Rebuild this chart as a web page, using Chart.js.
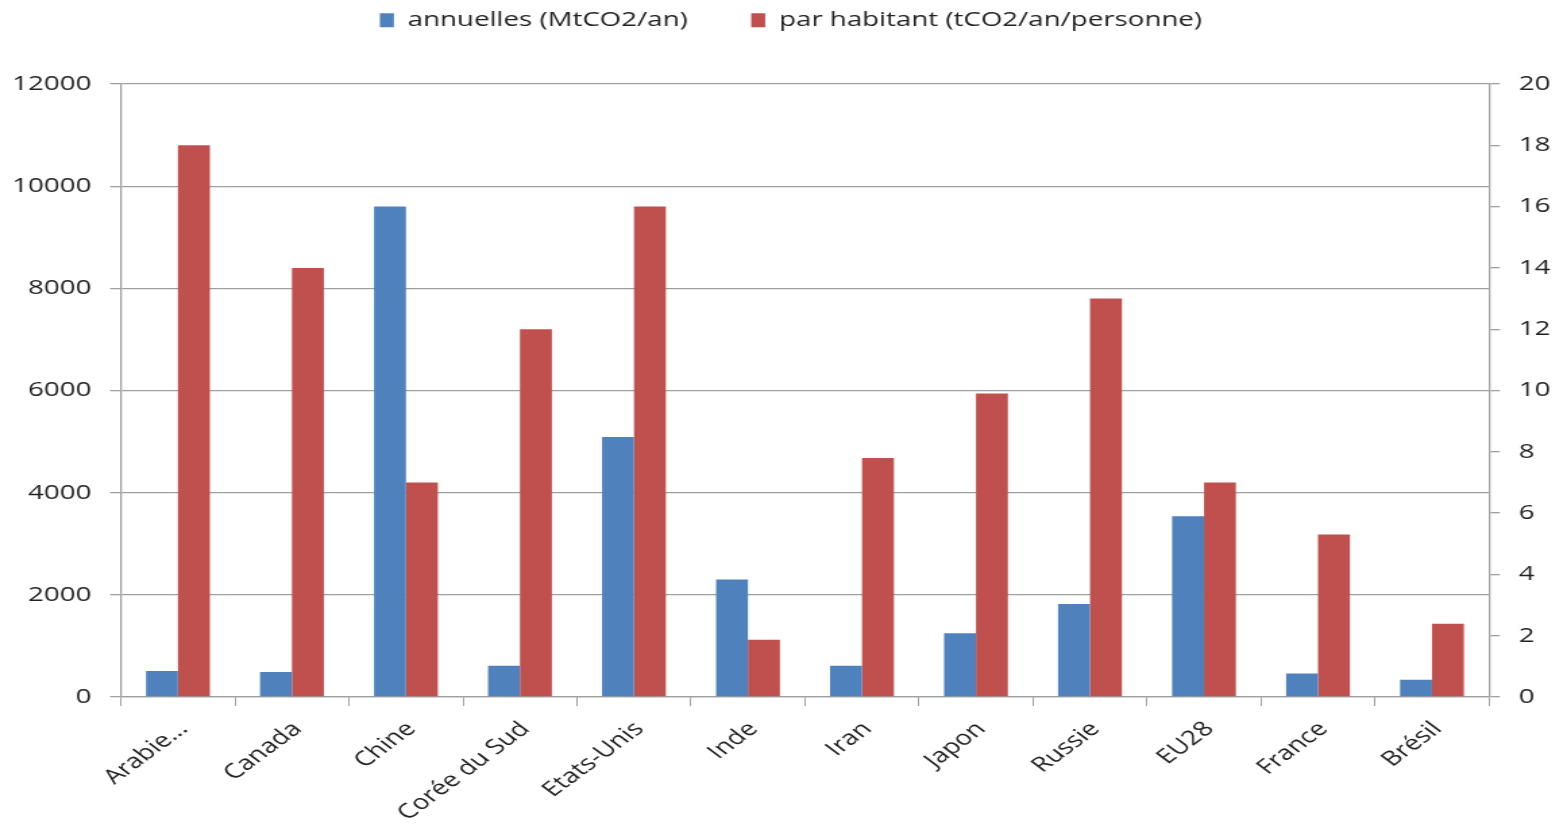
<!DOCTYPE html>
<html>
<head>
<meta charset="utf-8">
<script src="https://cdn.jsdelivr.net/npm/chart.js@4/dist/chart.umd.min.js"></script>
<style>
html,body{margin:0;padding:0;background:#fff;overflow:hidden;}
#c{display:block;width:1567px !important;height:829px !important;}
</style>
</head>
<body>
<canvas id="c" width="1161" height="829" style="width:1567px;height:829px;"></canvas>
<script>
// Data
const categories = ["Arabie...", "Canada", "Chine", "Corée du Sud", "Etats-Unis", "Inde", "Iran", "Japon", "Russie", "EU28", "France", "Brésil"];
const annualLabel = "annuelles (MtCO2/an)";
const perCapitaLabel = "par habitant (tCO2/an/personne)";
const annualValues = [510, 490, 9600, 610, 5090, 2300, 610, 1250, 1820, 3540, 460, 340];
const perCapitaValues = [18, 14, 7, 12, 16, 1.87, 7.8, 9.9, 13, 7, 5.3, 2.39];
const leftTicks = [0, 2000, 4000, 6000, 8000, 10000, 12000];
const rightTicks = [0, 2, 4, 6, 8, 10, 12, 14, 16, 18, 20];

const FONT = {family: "'Open Sans', sans-serif", size: 20.5};
const TEXT = '#222222';
const GRID = '#a0a0a0';

const legendSpace = {
  id: 'legendSpace',
  beforeInit(chart) {
    const orig = chart.legend.fit;
    chart.legend.fit = function () {
      orig.bind(chart.legend)();
      this.height = 121;
    };
  }
};

new Chart(document.getElementById('c'), {
  type: 'bar',
  data: {
    labels: categories,
    datasets: [
      {label: annualLabel, data: annualValues, backgroundColor: '#4F81BD', borderWidth: 0, yAxisID: 'y', categoryPercentage: 0.56, barPercentage: 1.0},
      {label: perCapitaLabel, data: perCapitaValues, backgroundColor: '#C0504D', borderWidth: 0, yAxisID: 'y1', categoryPercentage: 0.56, barPercentage: 1.0}
    ]
  },
  options: {
    responsive: false,
    animation: false,
    devicePixelRatio: 1,
    layout: {padding: {top: -37, left: 11, right: 0, bottom: 0}},
    plugins: {
      legend: {
        position: 'top',
        align: 'center',
        labels: {font: FONT, color: TEXT, boxWidth: 10.4, boxHeight: 14, padding: 47}
      },
      tooltip: {enabled: false}
    },
    scales: {
      x: {
        offset: true,
        grid: {offset: true, drawOnChartArea: false, drawTicks: true, tickLength: 9, color: GRID, lineWidth: 1},
        border: {color: GRID, width: 1.3},
        ticks: {font: FONT, color: TEXT, minRotation: 45, maxRotation: 45, autoSkip: false, padding: 11, labelOffset: 4},
        afterFit: s => { s.height = 132; }
      },
      y: {
        position: 'left',
        min: 0, max: 12000,
        afterBuildTicks: s => { s.ticks = leftTicks.map(v => ({value: v})); },
        grid: {color: GRID, lineWidth: 1.3, tickLength: 8, drawTicks: true},
        border: {color: GRID, width: 1.3},
        ticks: {font: FONT, color: TEXT, padding: 14, callback: v => String(v)},
        afterFit: s => { s.width = 78.6; }
      },
      y1: {
        position: 'right',
        min: 0, max: 20,
        afterBuildTicks: s => { s.ticks = rightTicks.map(v => ({value: v})); },
        grid: {drawOnChartArea: false, color: GRID, lineWidth: 1.3, tickLength: 8, drawTicks: true},
        border: {color: GRID, width: 1.3},
        ticks: {font: FONT, color: TEXT, padding: 14, callback: v => String(v)},
        afterFit: s => { s.width = 57.8; }
      }
    }
  },
  plugins: [legendSpace]
});
</script>
</body>
</html>
